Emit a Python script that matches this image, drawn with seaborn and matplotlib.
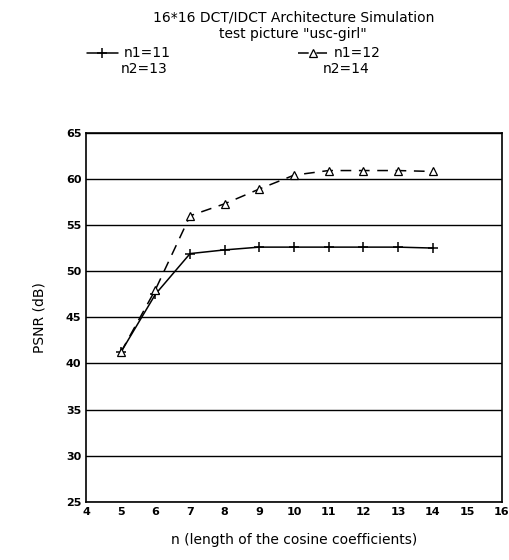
import matplotlib
matplotlib.use("Agg")
import matplotlib.pyplot as plt
from matplotlib.lines import Line2D
from matplotlib.ticker import MultipleLocator
import seaborn as sns
import pandas as pd

# data
n_values = [5, 6, 7, 8, 9, 10, 11, 12, 13, 14]
psnr_11_13 = [41.2, 47.5, 51.9, 52.3, 52.6, 52.6, 52.6, 52.6, 52.6, 52.5]
psnr_12_14 = [41.2, 48.0, 56.0, 57.3, 58.9, 60.4, 60.9, 60.9, 60.9, 60.8]
series_names = ["n1=11", "n1=12"]
second_lines = ["n2=13", "n2=14"]

df = pd.DataFrame({
    "n": n_values * 2,
    "psnr": psnr_11_13 + psnr_12_14,
    "config": [series_names[0]] * len(n_values) + [series_names[1]] * len(n_values),
})

sns.set_style("white")
plt.rcParams["font.family"] = ["DejaVu Sans"]
plt.rcParams["text.color"] = "black"
plt.rcParams["axes.labelcolor"] = "black"
plt.rcParams["xtick.color"] = "black"
plt.rcParams["ytick.color"] = "black"

solid_style = dict(color="black", linewidth=1.1, marker="+", markersize=7,
                   markeredgecolor="black", markeredgewidth=1.1)
dash_style = dict(color="black", linewidth=1.1, linestyle=(0, (7, 5)), marker="^",
                  markersize=6, markerfacecolor="white", markeredgecolor="black",
                  markeredgewidth=0.9)

fig = plt.figure(figsize=(5.10, 5.60), dpi=100)
ax = fig.add_axes([0.169, 0.104, 0.815, 0.659])

sns.lineplot(data=df[df.config == series_names[0]], x="n", y="psnr", ax=ax,
             legend=False, **solid_style)
sns.lineplot(data=df[df.config == series_names[1]], x="n", y="psnr", ax=ax,
             legend=False, **dash_style)

ax.set_xlim(4, 16)
ax.set_ylim(25, 65)
ax.xaxis.set_major_locator(MultipleLocator(1))
ax.yaxis.set_major_locator(MultipleLocator(5))
ax.yaxis.set_minor_locator(MultipleLocator(1))
ax.tick_params(axis="both", which="both", direction="in", labelsize=8)
ax.tick_params(axis="y", which="major", length=5, width=1)
ax.tick_params(axis="y", which="minor", length=3, width=0.8)
ax.tick_params(axis="x", which="major", length=5, width=1, top=False)
for lab in ax.get_xticklabels() + ax.get_yticklabels():
    lab.set_fontweight("bold")

ax.grid(axis="y", which="major", color="black", linewidth=1.0)
ax.grid(axis="x", visible=False)
for sp in ax.spines.values():
    sp.set_color("black")
    sp.set_linewidth(1.2)

ax.set_xlabel("n (length of the cosine coefficients)", fontsize=10, labelpad=12)
ax.set_ylabel("PSNR (dB)", fontsize=10, labelpad=14)

fig.text(0.575, 0.968, "16*16 DCT/IDCT Architecture Simulation", ha="center",
         va="center", fontsize=10)
fig.text(0.575, 0.939, 'test picture "usc-girl"', ha="center", va="center",
         fontsize=10)

handles = [Line2D([], [], **solid_style), Line2D([], [], **dash_style)]
fig.legend(handles, series_names, loc="upper left", bbox_to_anchor=(0.16, 0.927),
           ncol=2, frameon=False, fontsize=10, handlelength=2.2,
           handletextpad=0.4, columnspacing=9.2, borderaxespad=0)
fig.text(0.236, 0.876, second_lines[0], ha="left", va="center", fontsize=10)
fig.text(0.632, 0.876, second_lines[1], ha="left", va="center", fontsize=10)

fig.savefig("out.png", dpi=100, facecolor="white")
